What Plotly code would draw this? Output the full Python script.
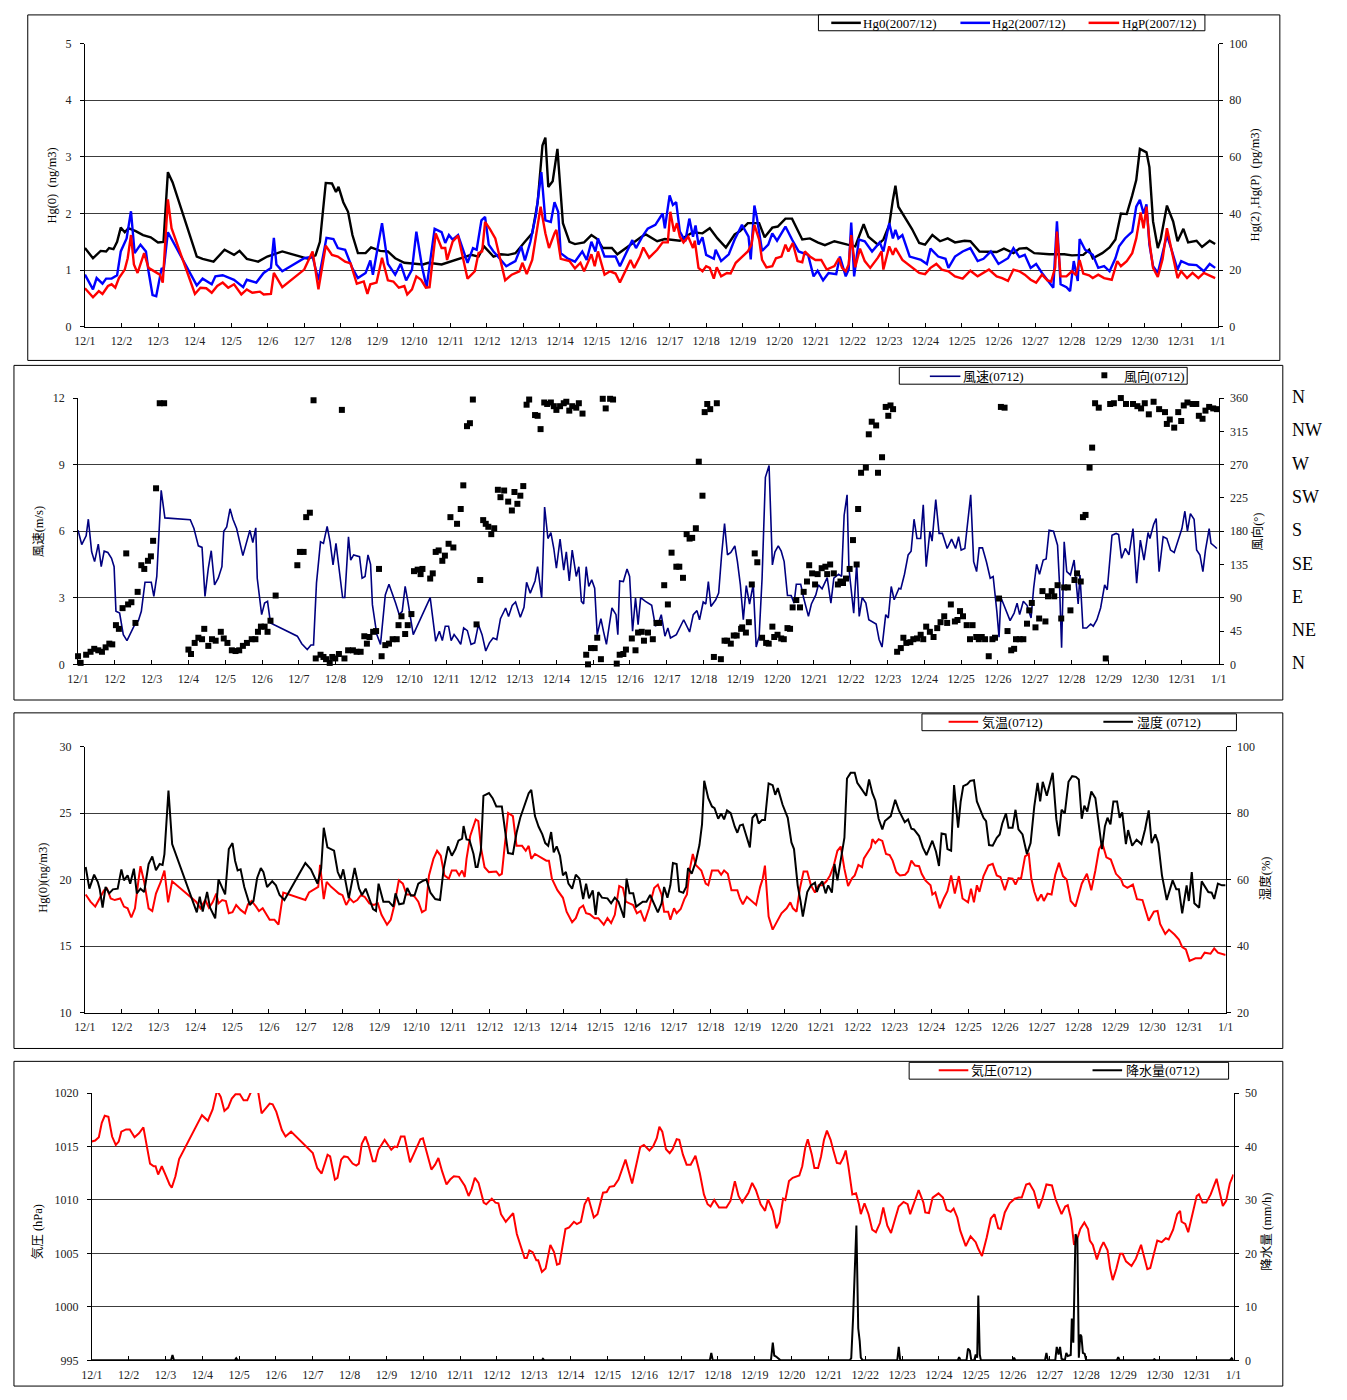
import plotly.graph_objects as go

# ---------------------------------------------------------------- data
# time axis: days elapsed since 2007-12-01 00:00
x_tick_labels = ["12/1", "12/2", "12/3", "12/4", "12/5", "12/6", "12/7", "12/8",
                 "12/9", "12/10", "12/11", "12/12", "12/13", "12/14", "12/15",
                 "12/16", "12/17", "12/18", "12/19", "12/20", "12/21", "12/22",
                 "12/23", "12/24", "12/25", "12/26", "12/27", "12/28", "12/29",
                 "12/30", "12/31", "1/1"]

# gaseous elemental mercury Hg(0), ng/m3
hg0 = [(0.00, 1.39), (0.22, 1.21), (0.43, 1.34), (0.58, 1.33), (0.66, 1.39), (0.78, 1.37),
       (0.88, 1.50), (0.98, 1.75), (1.09, 1.67), (1.19, 1.74), (1.39, 1.69), (1.59, 1.62),
       (1.80, 1.58), (2.00, 1.49), (2.15, 1.50), (2.27, 2.73), (2.40, 2.55), (3.06, 1.24),
       (3.22, 1.20), (3.52, 1.15), (3.82, 1.36), (4.08, 1.27), (4.23, 1.34), (4.43, 1.20),
       (4.74, 1.15), (4.99, 1.24), (5.40, 1.33), (6.11, 1.20), (6.31, 1.26), (6.43, 1.50),
       (6.59, 2.54), (6.76, 2.53), (6.87, 2.38), (6.94, 2.47), (7.07, 2.20), (7.20, 2.03),
       (7.32, 1.62), (7.47, 1.30), (7.68, 1.30), (7.83, 1.40), (8.08, 1.34), (8.29, 1.33),
       (8.49, 1.21), (8.74, 1.13), (9.25, 1.10), (9.40, 1.13), (9.76, 1.10), (9.96, 1.14),
       (10.26, 1.21), (10.57, 1.27), (10.77, 1.24), (10.92, 1.42), (11.18, 1.24), (11.38, 1.28),
       (11.58, 1.27), (11.78, 1.30), (12.04, 1.50), (12.24, 1.65), (12.39, 2.20), (12.52, 3.20),
       (12.60, 3.34), (12.68, 2.47), (12.80, 2.57), (12.93, 3.14), (13.08, 1.83), (13.26, 1.50),
       (13.41, 1.46), (13.66, 1.49), (13.86, 1.62), (14.02, 1.55), (14.17, 1.39), (14.42, 1.39),
       (14.57, 1.28), (14.93, 1.45), (15.23, 1.59), (15.35, 1.63), (15.66, 1.51), (15.87, 1.55),
       (16.02, 1.54), (16.28, 1.52), (16.43, 1.59), (16.64, 1.67), (16.90, 1.65), (17.10, 1.74),
       (17.31, 1.56), (17.54, 1.40), (17.78, 1.63), (17.93, 1.69), (18.14, 1.83), (18.45, 1.83),
       (18.60, 1.58), (18.81, 1.75), (18.96, 1.77), (19.17, 1.91), (19.35, 1.91), (19.48, 1.74),
       (19.63, 1.54), (19.84, 1.56), (20.05, 1.49), (20.25, 1.44), (20.51, 1.51), (20.87, 1.45),
       (21.08, 1.42), (21.18, 1.59), (21.31, 1.81), (21.44, 1.59), (21.70, 1.45), (21.85, 1.54),
       (22.01, 1.80), (22.11, 2.24), (22.18, 2.49), (22.26, 2.12), (22.47, 1.89), (22.63, 1.73),
       (22.83, 1.48), (22.99, 1.45), (23.19, 1.62), (23.40, 1.51), (23.61, 1.56), (23.81, 1.49),
       (24.07, 1.52), (24.23, 1.51), (24.48, 1.33), (24.95, 1.32), (25.15, 1.38), (25.41, 1.30),
       (25.57, 1.38), (25.77, 1.39), (25.98, 1.30), (26.39, 1.28), (26.80, 1.28), (27.01, 1.26),
       (27.32, 1.27), (27.48, 1.36), (27.58, 1.21), (27.84, 1.30), (28.04, 1.40), (28.20, 1.54),
       (28.35, 2.00), (28.51, 1.99), (28.66, 2.32), (28.77, 2.59), (28.87, 3.14), (29.05, 3.08),
       (29.13, 2.82), (29.23, 1.86), (29.36, 1.39), (29.44, 1.55), (29.61, 2.14), (29.78, 1.86),
       (29.90, 1.51), (30.06, 1.73), (30.19, 1.49), (30.42, 1.52), (30.57, 1.41), (30.78, 1.52),
       (30.93, 1.46)]

# reactive gaseous mercury Hg(2), pg/m3
hg2 = [(0.00, 18.4), (0.22, 13.2), (0.32, 17.2), (0.48, 15.2), (0.58, 17.0), (0.73, 17.0),
       (0.88, 18.2), (0.98, 26.6), (1.14, 31.2), (1.26, 40.8), (1.36, 26.0), (1.52, 29.0),
       (1.67, 26.6), (1.74, 19.6), (1.85, 11.2), (1.95, 10.8), (2.10, 20.8), (2.15, 19.6),
       (2.27, 33.4), (3.06, 14.6), (3.22, 17.0), (3.47, 15.0), (3.57, 17.8), (3.77, 18.2),
       (4.08, 16.6), (4.33, 14.0), (4.43, 16.6), (4.69, 15.6), (4.89, 19.0), (5.09, 20.8),
       (5.17, 31.4), (5.24, 22.0), (5.40, 19.6), (6.00, 24.2), (6.23, 24.8), (6.39, 16.4),
       (6.61, 31.4), (6.80, 31.0), (6.92, 27.8), (7.12, 27.2), (7.32, 20.6), (7.47, 17.2),
       (7.68, 19.0), (7.81, 23.4), (7.88, 18.4), (8.13, 36.6), (8.29, 22.2), (8.49, 18.4),
       (8.64, 22.2), (8.79, 16.4), (8.95, 20.2), (9.07, 33.6), (9.23, 20.8), (9.35, 14.0),
       (9.57, 34.6), (9.76, 33.4), (9.86, 29.6), (9.96, 32.4), (10.06, 30.8), (10.21, 32.4),
       (10.47, 22.6), (10.62, 27.8), (10.72, 27.2), (10.85, 37.6), (10.95, 38.8), (11.05, 29.0),
       (11.18, 26.6), (11.38, 23.6), (11.53, 21.4), (11.78, 23.2), (11.94, 28.4), (12.04, 23.4),
       (12.19, 30.0), (12.34, 39.4), (12.49, 54.6), (12.60, 37.6), (12.75, 37.0), (12.85, 44.0),
       (12.95, 40.6), (13.02, 26.0), (13.20, 24.2), (13.41, 23.0), (13.61, 26.6), (13.73, 23.6),
       (13.86, 30.0), (13.97, 26.6), (14.04, 31.2), (14.22, 24.8), (14.52, 24.8), (14.64, 21.4),
       (14.78, 25.4), (14.98, 30.6), (15.08, 27.8), (15.28, 32.4), (15.40, 34.6), (15.61, 36.0),
       (15.81, 40.0), (15.87, 34.8), (16.00, 46.4), (16.09, 43.0), (16.18, 44.0), (16.28, 33.6),
       (16.43, 30.2), (16.54, 38.2), (16.64, 31.8), (16.71, 35.8), (16.79, 29.0), (16.90, 31.6),
       (17.00, 25.4), (17.21, 24.0), (17.26, 27.2), (17.41, 23.2), (17.62, 25.6), (17.78, 30.8),
       (17.98, 36.0), (18.16, 31.8), (18.22, 23.8), (18.32, 42.8), (18.39, 38.4), (18.53, 26.8),
       (18.70, 29.0), (18.81, 33.0), (18.94, 30.4), (19.17, 35.4), (19.35, 30.8), (19.53, 26.6),
       (19.79, 25.4), (19.94, 17.8), (20.05, 19.8), (20.20, 16.4), (20.35, 19.0), (20.56, 18.6),
       (20.66, 24.8), (20.82, 17.8), (20.90, 20.2), (20.97, 36.8), (21.05, 17.8), (21.18, 30.8),
       (21.34, 30.2), (21.54, 26.6), (21.75, 29.8), (21.85, 26.6), (22.01, 36.6), (22.11, 31.2),
       (22.18, 34.2), (22.26, 31.2), (22.37, 32.4), (22.57, 24.8), (22.88, 23.6), (23.04, 22.2),
       (23.14, 27.6), (23.35, 24.8), (23.55, 24.0), (23.63, 20.8), (23.81, 24.8), (24.02, 26.6),
       (24.23, 27.8), (24.43, 23.2), (24.59, 24.0), (24.79, 26.6), (25.00, 22.2), (25.26, 24.2),
       (25.41, 27.8), (25.57, 24.6), (25.72, 25.4), (25.88, 20.8), (26.03, 22.2), (26.19, 19.0),
       (26.39, 15.6), (26.50, 13.8), (26.60, 37.2), (26.70, 15.0), (26.86, 14.0), (26.96, 12.6),
       (27.06, 23.2), (27.17, 16.2), (27.22, 31.0), (27.37, 27.2), (27.58, 25.4), (27.73, 20.8),
       (27.89, 21.4), (28.04, 19.6), (28.20, 24.2), (28.30, 28.4), (28.46, 31.2), (28.66, 33.6),
       (28.77, 42.4), (28.87, 44.8), (28.97, 40.0), (29.05, 43.2), (29.13, 29.0), (29.23, 21.4),
       (29.36, 19.0), (29.49, 26.6), (29.61, 32.4), (29.75, 26.6), (29.90, 20.2), (30.00, 23.2),
       (30.21, 22.0), (30.42, 21.8), (30.62, 19.6), (30.78, 22.2), (30.93, 20.8)]

# particulate mercury Hg(P), pg/m3
hgp = [(0.00, 13.6), (0.22, 10.4), (0.38, 12.6), (0.48, 11.6), (0.63, 14.4), (0.73, 15.0),
       (0.83, 13.8), (0.93, 17.2), (1.09, 20.2), (1.17, 24.2), (1.26, 32.4), (1.34, 22.0),
       (1.44, 19.0), (1.62, 26.0), (1.74, 20.8), (1.90, 19.6), (2.05, 18.4), (2.13, 15.6),
       (2.27, 45.0), (2.37, 34.8), (3.01, 11.6), (3.16, 13.8), (3.32, 13.6), (3.47, 12.0),
       (3.62, 14.4), (3.77, 15.6), (3.92, 13.8), (4.08, 15.0), (4.28, 11.4), (4.43, 13.2),
       (4.58, 12.0), (4.79, 12.4), (4.89, 11.4), (5.09, 11.6), (5.17, 19.0), (5.40, 14.0),
       (6.00, 20.2), (6.23, 26.6), (6.39, 13.2), (6.59, 28.6), (6.76, 25.4), (6.92, 24.8),
       (7.12, 23.0), (7.27, 22.4), (7.44, 15.2), (7.63, 16.0), (7.73, 11.6), (7.81, 15.0),
       (7.98, 15.6), (8.13, 24.4), (8.29, 16.4), (8.44, 16.0), (8.59, 13.8), (8.74, 14.4),
       (8.82, 11.4), (8.95, 13.2), (9.07, 17.8), (9.20, 16.6), (9.33, 13.8), (9.43, 14.0),
       (9.60, 33.0), (9.76, 27.8), (9.86, 27.8), (9.91, 23.6), (10.06, 30.0), (10.21, 32.2),
       (10.47, 17.0), (10.67, 19.6), (10.77, 26.0), (10.87, 26.6), (10.95, 37.0), (11.08, 34.6),
       (11.23, 31.2), (11.38, 23.0), (11.50, 16.4), (11.68, 18.4), (11.89, 19.6), (11.97, 22.6),
       (12.09, 18.6), (12.24, 23.6), (12.34, 31.2), (12.47, 42.4), (12.60, 33.0), (12.70, 27.8),
       (12.85, 33.0), (12.90, 34.2), (13.02, 24.0), (13.26, 23.2), (13.41, 20.6), (13.56, 22.6),
       (13.66, 19.6), (13.86, 25.6), (13.95, 21.4), (14.04, 26.6), (14.22, 18.4), (14.37, 19.6),
       (14.52, 18.8), (14.64, 15.6), (14.83, 20.8), (14.93, 23.6), (15.03, 20.8), (15.19, 24.8),
       (15.28, 28.0), (15.44, 24.4), (15.66, 27.2), (15.81, 29.8), (15.95, 29.8), (16.02, 40.6),
       (16.12, 33.6), (16.20, 36.6), (16.28, 31.8), (16.38, 29.8), (16.51, 31.8), (16.64, 27.8),
       (16.69, 30.4), (16.79, 20.8), (16.90, 19.6), (17.00, 21.4), (17.10, 20.8), (17.21, 17.0),
       (17.29, 21.0), (17.41, 17.8), (17.57, 19.0), (17.67, 18.8), (17.81, 22.6), (17.98, 24.8),
       (18.14, 26.6), (18.24, 29.0), (18.32, 36.0), (18.45, 30.8), (18.53, 23.6), (18.65, 21.0),
       (18.81, 21.4), (18.91, 24.2), (19.06, 24.8), (19.17, 29.0), (19.25, 26.6), (19.37, 29.6),
       (19.50, 23.2), (19.63, 22.8), (19.70, 26.6), (19.84, 24.8), (19.99, 23.6), (20.15, 23.6),
       (20.30, 20.2), (20.51, 21.4), (20.63, 24.2), (20.72, 20.8), (20.82, 19.6), (20.90, 22.0),
       (20.97, 32.4), (21.08, 21.0), (21.21, 27.6), (21.34, 23.2), (21.49, 20.8), (21.70, 24.4),
       (21.80, 26.6), (21.85, 20.2), (22.01, 28.4), (22.11, 25.4), (22.18, 27.8), (22.37, 23.6),
       (22.53, 22.0), (22.68, 20.8), (22.83, 19.0), (22.99, 18.6), (23.14, 20.8), (23.30, 22.2),
       (23.45, 20.2), (23.63, 19.6), (23.81, 17.8), (24.02, 17.0), (24.23, 19.8), (24.43, 17.8),
       (24.59, 19.0), (24.74, 20.2), (24.95, 17.8), (25.10, 17.2), (25.26, 16.2), (25.41, 20.2),
       (25.57, 19.6), (25.72, 18.4), (25.88, 16.6), (26.03, 15.6), (26.19, 18.4), (26.34, 16.4),
       (26.44, 16.0), (26.55, 20.8), (26.60, 33.6), (26.70, 17.8), (26.86, 17.8), (27.01, 19.6),
       (27.12, 18.2), (27.22, 23.6), (27.32, 18.8), (27.48, 18.2), (27.58, 17.2), (27.73, 18.4),
       (27.89, 17.2), (28.10, 16.6), (28.25, 23.2), (28.35, 21.4), (28.51, 23.2), (28.66, 26.0),
       (28.77, 31.2), (28.89, 40.4), (28.97, 34.8), (29.05, 42.4), (29.13, 30.2), (29.23, 20.8),
       (29.36, 17.6), (29.49, 23.8), (29.61, 34.8), (29.75, 26.6), (29.90, 17.2), (30.00, 19.6),
       (30.16, 17.2), (30.31, 19.0), (30.47, 17.2), (30.62, 19.0), (30.78, 18.2), (30.93, 17.2)]

# wind speed, m/s
wind_speed = [(0.00, 6.04), (0.10, 5.40), (0.22, 5.79), (0.28, 6.54), (0.37, 5.07), (0.45, 4.63),
              (0.55, 5.42), (0.63, 4.40), (0.71, 5.10), (0.81, 5.04), (0.91, 4.78), (0.98, 4.40),
              (1.03, 2.39), (1.13, 2.31), (1.23, 1.34), (1.33, 1.07), (1.54, 1.79), (1.64, 1.97),
              (1.72, 2.39), (1.82, 3.70), (1.99, 3.70), (2.06, 3.06), (2.14, 3.96), (2.26, 7.84),
              (2.36, 6.60), (3.05, 6.52), (3.15, 6.12), (3.27, 5.34), (3.37, 5.27), (3.45, 3.06),
              (3.54, 4.33), (3.62, 5.12), (3.71, 3.58), (3.81, 3.88), (3.91, 4.40), (3.96, 6.00),
              (4.04, 6.19), (4.13, 7.01), (4.21, 6.54), (4.31, 6.12), (4.48, 4.90), (4.59, 5.55),
              (4.67, 6.04), (4.75, 5.49), (4.83, 6.15), (4.87, 3.88), (4.99, 2.24), (5.07, 2.76),
              (5.15, 2.84), (5.23, 1.87), (5.96, 1.27), (6.08, 0.93), (6.23, 0.67), (6.33, 0.87),
              (6.40, 0.87), (6.48, 3.66), (6.59, 5.52), (6.67, 5.45), (6.77, 6.22), (6.85, 5.52),
              (6.93, 4.48), (7.01, 5.45), (7.09, 4.40), (7.19, 3.01), (7.25, 3.01), (7.35, 5.75),
              (7.41, 4.70), (7.49, 4.93), (7.65, 4.85), (7.72, 3.88), (7.80, 3.96), (7.88, 4.93),
              (7.95, 4.51), (8.00, 2.69), (8.12, 1.34), (8.22, 0.90), (8.35, 3.13), (8.45, 3.61),
              (8.63, 2.76), (8.73, 2.24), (8.81, 2.39), (8.89, 3.51), (8.96, 2.87), (9.01, 2.39),
              (9.11, 1.34), (9.57, 3.01), (9.72, 1.04), (9.82, 1.49), (9.90, 1.07), (9.98, 1.72),
              (10.07, 1.72), (10.14, 1.07), (10.22, 1.34), (10.32, 1.12), (10.40, 0.90), (10.48, 1.64),
              (10.58, 1.52), (10.68, 0.90), (10.78, 0.97), (10.88, 1.79), (10.98, 1.34), (11.08, 0.60),
              (11.18, 0.97), (11.28, 1.19), (11.38, 1.12), (11.48, 2.06), (11.62, 2.54), (11.70, 2.16),
              (11.80, 2.66), (11.89, 2.81), (12.02, 2.12), (12.12, 2.57), (12.19, 3.70), (12.29, 3.21),
              (12.42, 3.76), (12.49, 4.40), (12.60, 2.99), (12.68, 7.09), (12.77, 5.67), (12.85, 5.94),
              (12.93, 5.22), (13.00, 4.33), (13.10, 5.64), (13.20, 4.25), (13.27, 5.07), (13.35, 3.76),
              (13.43, 5.15), (13.54, 3.96), (13.61, 4.40), (13.68, 2.84), (13.74, 2.72), (13.81, 4.40),
              (13.88, 3.51), (13.96, 3.81), (14.04, 3.43), (14.11, 1.34), (14.21, 2.06), (14.28, 1.49),
              (14.36, 0.90), (14.44, 1.79), (14.51, 2.54), (14.62, 2.24), (14.67, 1.34), (14.72, 3.76),
              (14.82, 3.73), (14.92, 4.30), (14.99, 3.96), (15.07, 1.49), (15.15, 2.99), (15.22, 1.79),
              (15.29, 3.01), (15.42, 2.84), (15.59, 2.66), (15.69, 1.72), (15.79, 1.94), (15.85, 2.24),
              (15.95, 1.27), (16.03, 1.64), (16.10, 1.19), (16.26, 1.34), (16.46, 2.01), (16.62, 1.46),
              (16.72, 2.24), (16.82, 2.42), (16.89, 2.01), (16.99, 2.81), (17.06, 2.72), (17.13, 3.73),
              (17.20, 2.61), (17.33, 2.91), (17.41, 3.21), (17.49, 4.93), (17.57, 6.34), (17.65, 4.93),
              (17.74, 5.04), (17.85, 5.34), (17.92, 4.63), (18.00, 3.58), (18.08, 2.01), (18.16, 3.55),
              (18.25, 2.72), (18.35, 3.61), (18.43, 0.78), (18.51, 1.27), (18.59, 3.88), (18.68, 8.43),
              (18.78, 8.96), (18.87, 4.48), (18.94, 5.07), (19.03, 5.34), (19.11, 5.10), (19.19, 4.63),
              (19.28, 3.10), (19.38, 3.10), (19.46, 2.76), (19.52, 3.61), (19.64, 3.61), (19.72, 2.99),
              (19.85, 2.16), (19.93, 2.72), (20.05, 3.13), (20.12, 3.58), (20.22, 3.40), (20.36, 3.91),
              (20.46, 2.76), (20.54, 3.88), (20.67, 4.06), (20.75, 3.96), (20.82, 6.72), (20.90, 7.64),
              (20.95, 4.33), (21.08, 2.31), (21.16, 4.55), (21.23, 2.16), (21.31, 3.01), (21.41, 2.76),
              (21.49, 2.01), (21.69, 1.82), (21.77, 1.12), (21.85, 0.78), (21.95, 2.24), (22.02, 2.09),
              (22.10, 3.51), (22.18, 2.91), (22.31, 3.43), (22.36, 3.40), (22.46, 4.06), (22.56, 4.93),
              (22.64, 5.10), (22.72, 6.54), (22.80, 5.67), (22.90, 5.67), (22.97, 7.19), (23.05, 4.40),
              (23.15, 6.00), (23.21, 5.55), (23.31, 7.43), (23.40, 5.90), (23.49, 5.90), (23.62, 5.22),
              (23.74, 5.64), (23.85, 5.22), (23.93, 5.75), (24.00, 5.15), (24.10, 5.22), (24.26, 7.64),
              (24.34, 4.63), (24.42, 4.18), (24.49, 5.25), (24.58, 5.25), (24.69, 4.60), (24.79, 3.88),
              (24.87, 3.96), (24.97, 2.39), (25.03, 1.22), (25.08, 3.01), (25.20, 2.54), (25.33, 1.97),
              (25.44, 2.31), (25.52, 2.76), (25.59, 2.24), (25.69, 2.84), (25.79, 2.66), (25.90, 2.09),
              (25.97, 3.43), (26.05, 4.51), (26.13, 4.06), (26.23, 4.70), (26.31, 4.75), (26.39, 6.04),
              (26.51, 6.00), (26.62, 5.37), (26.67, 3.73), (26.73, 0.75), (26.80, 5.52), (26.87, 4.18),
              (26.97, 4.03), (27.07, 4.70), (27.18, 2.72), (27.23, 4.03), (27.31, 1.64), (27.41, 1.64),
              (27.52, 1.82), (27.59, 1.72), (27.69, 2.01), (27.79, 2.54), (27.90, 3.58), (27.97, 3.36),
              (28.10, 5.82), (28.21, 5.90), (28.28, 5.85), (28.36, 4.78), (28.46, 5.22), (28.56, 4.93),
              (28.67, 6.12), (28.77, 3.66), (28.87, 5.60), (28.97, 4.70), (29.08, 5.94), (29.13, 5.67),
              (29.23, 6.30), (29.30, 6.57), (29.38, 4.18), (29.49, 5.75), (29.59, 5.67), (29.69, 5.15),
              (29.79, 5.04), (29.92, 5.75), (30.00, 6.12), (30.08, 6.90), (30.15, 6.00), (30.23, 6.79),
              (30.33, 6.54), (30.40, 5.15), (30.49, 4.93), (30.57, 4.18), (30.64, 5.15), (30.74, 6.12),
              (30.79, 5.45), (30.90, 5.30), (30.95, 5.22)]

# wind direction, degrees (0 = 360 = N)
wind_dir = [(0.00, 11), (0.07, 2), (0.22, 13), (0.34, 17), (0.44, 21), (0.55, 19), (0.65, 17),
            (0.75, 23), (0.85, 28), (0.93, 27), (1.03, 53), (1.11, 48), (1.21, 76), (1.31, 150),
            (1.36, 81), (1.45, 84), (1.56, 56), (1.62, 98), (1.72, 134), (1.80, 129), (1.90, 140),
            (1.98, 146), (2.04, 167), (2.12, 238), (2.22, 353), (2.34, 353), (3.00, 20), (3.07, 14),
            (3.17, 29), (3.27, 36), (3.37, 34), (3.43, 48), (3.54, 25), (3.64, 34), (3.74, 32),
            (3.88, 44), (3.96, 35), (4.06, 29), (4.18, 19), (4.28, 18), (4.38, 19), (4.48, 25),
            (4.59, 29), (4.72, 34), (4.82, 34), (4.89, 44), (4.97, 51), (5.07, 51), (5.15, 44),
            (5.23, 59), (5.37, 93), (5.96, 134), (6.03, 152), (6.13, 152), (6.20, 199), (6.30, 205),
            (6.40, 357), (6.46, 8), (6.59, 13), (6.67, 10), (6.74, 7), (6.84, 2), (6.91, 10),
            (6.99, 8), (7.09, 14), (7.17, 344), (7.24, 8), (7.34, 19), (7.47, 19), (7.57, 17),
            (7.68, 17), (7.78, 38), (7.85, 28), (7.92, 37), (8.02, 44), (8.10, 45), (8.18, 129),
            (8.25, 11), (8.35, 26), (8.45, 28), (8.55, 34), (8.66, 34), (8.71, 53), (8.79, 65),
            (8.89, 41), (8.96, 53), (9.06, 68), (9.13, 126), (9.23, 128), (9.31, 122), (9.36, 129),
            (9.57, 116), (9.64, 123), (9.72, 152), (9.80, 154), (9.90, 140), (9.97, 147), (10.07, 163),
            (10.12, 199), (10.20, 158), (10.30, 190), (10.40, 210), (10.47, 242), (10.57, 322),
            (10.65, 326), (10.73, 358), (10.83, 54), (10.93, 114), (11.01, 195), (11.08, 190),
            (11.15, 186), (11.23, 176), (11.31, 184), (11.41, 236), (11.48, 226), (11.58, 235),
            (11.69, 220), (11.79, 208), (11.86, 233), (11.94, 217), (12.02, 228), (12.10, 241),
            (12.19, 351), (12.26, 358), (12.42, 337), (12.49, 336), (12.57, 318), (12.67, 354),
            (12.75, 352), (12.85, 354), (12.93, 349), (13.00, 344), (13.10, 349), (13.20, 353),
            (13.27, 355), (13.35, 343), (13.43, 349), (13.54, 347), (13.61, 353), (13.71, 339),
            (13.81, 13), (13.86, 0), (13.94, 22), (14.04, 22), (14.11, 36), (14.21, 7), (14.26, 359),
            (14.34, 346), (14.46, 359), (14.54, 358), (14.64, 1), (14.72, 13), (14.82, 14),
            (14.89, 20), (15.05, 35), (15.15, 19), (15.22, 43), (15.32, 44), (15.38, 32), (15.49, 43),
            (15.62, 34), (15.72, 56), (15.79, 56), (15.93, 107), (16.03, 81), (16.13, 151),
            (16.26, 132), (16.34, 132), (16.44, 117), (16.54, 176), (16.62, 170), (16.69, 171),
            (16.79, 184), (16.87, 274), (16.97, 228), (17.03, 341), (17.10, 352), (17.18, 345),
            (17.36, 353), (17.28, 10), (17.47, 7), (17.57, 32), (17.64, 32), (17.74, 28), (17.82, 39),
            (17.90, 39), (18.02, 48), (18.05, 50), (18.15, 43), (18.23, 57), (18.31, 108),
            (18.39, 150), (18.46, 138), (18.59, 36), (18.70, 29), (18.77, 28), (18.87, 51), (18.92, 37),
            (19.01, 40), (19.11, 35), (19.18, 34), (19.28, 49), (19.35, 48), (19.42, 77), (19.52, 87),
            (19.62, 77), (19.72, 98), (19.81, 112), (19.87, 134), (19.95, 123), (20.03, 108),
            (20.10, 122), (20.21, 130), (20.31, 132), (20.36, 122), (20.44, 135), (20.54, 123),
            (20.65, 108), (20.72, 112), (20.79, 110), (20.87, 116), (20.97, 129), (21.06, 168),
            (21.16, 135), (21.20, 210), (21.28, 259), (21.41, 266), (21.49, 311), (21.57, 328),
            (21.69, 323), (21.74, 259), (21.85, 280), (21.95, 348), (22.02, 336), (22.08, 350),
            (22.15, 345), (22.26, 17), (22.36, 22), (22.43, 36), (22.51, 29), (22.62, 30), (22.70, 34),
            (22.80, 35), (22.90, 40), (22.97, 34), (23.05, 51), (23.15, 44), (23.25, 37), (23.35, 49),
            (23.44, 57), (23.54, 65), (23.62, 56), (23.72, 81), (23.83, 58), (23.90, 60), (23.97, 72),
            (24.05, 65), (24.15, 53), (24.24, 34), (24.31, 53), (24.41, 37), (24.48, 34), (24.56, 37),
            (24.65, 34), (24.75, 11), (24.85, 34), (24.92, 36), (25.03, 89), (25.08, 348),
            (25.18, 347), (25.26, 45), (25.36, 19), (25.44, 21), (25.49, 34), (25.59, 34), (25.69, 34),
            (25.79, 55), (25.85, 73), (25.92, 83), (26.02, 50), (26.12, 62), (26.21, 99), (26.29, 58),
            (26.36, 92), (26.46, 99), (26.53, 92), (26.62, 107), (26.72, 62), (26.80, 104),
            (26.90, 104), (26.97, 73), (27.08, 114), (27.15, 123), (27.25, 112), (27.31, 199),
            (27.38, 202), (27.49, 266), (27.56, 293), (27.64, 353), (27.74, 347), (27.93, 8),
            (28.05, 352), (28.15, 353), (28.34, 360), (28.48, 352), (28.67, 352), (28.79, 349),
            (28.89, 346), (28.99, 353), (29.10, 338), (29.23, 355), (29.38, 345), (29.54, 341),
            (29.59, 325), (29.67, 331), (29.79, 320), (29.90, 341), (29.98, 329), (30.05, 350),
            (30.15, 354), (30.29, 352), (30.39, 352), (30.46, 336), (30.56, 332), (30.64, 343),
            (30.74, 348), (30.85, 346), (30.95, 345)]

# air temperature, degC
air_temp = [(0.02, 18.89), (0.15, 18.35), (0.28, 17.98), (0.40, 18.59), (0.52, 19.21), (0.60, 19.33),
            (0.70, 18.59), (0.81, 18.47), (0.96, 18.59), (1.06, 17.98), (1.16, 17.85), (1.26, 17.16),
            (1.36, 17.85), (1.46, 20.07), (1.51, 21.01), (1.61, 19.83), (1.73, 17.85), (1.83, 17.65),
            (1.93, 18.96), (2.06, 19.83), (2.16, 20.69), (2.26, 18.30), (2.37, 19.88), (3.02, 18.35),
            (3.14, 17.85), (3.27, 18.47), (3.37, 17.90), (3.47, 18.30), (3.57, 18.96), (3.63, 18.22),
            (3.73, 18.47), (3.83, 18.40), (3.91, 17.48), (4.01, 17.56), (4.11, 18.10), (4.23, 17.73),
            (4.35, 17.48), (4.43, 18.15), (4.53, 18.40), (4.65, 17.98), (4.73, 17.65), (4.83, 17.85),
            (4.93, 17.41), (5.02, 16.99), (5.15, 16.99), (5.26, 16.62), (5.39, 19.04), (5.99, 18.47),
            (6.09, 19.04), (6.24, 19.33), (6.34, 19.46), (6.39, 21.11), (6.49, 18.54), (6.57, 19.83),
            (6.69, 19.46), (6.80, 19.21), (6.90, 18.96), (7.00, 18.84), (7.10, 18.10), (7.20, 18.59),
            (7.30, 18.30), (7.40, 18.47), (7.50, 18.84), (7.60, 18.72), (7.73, 18.22), (7.85, 18.10),
            (7.96, 18.22), (8.06, 17.36), (8.21, 16.62), (8.31, 16.99), (8.41, 18.10), (8.53, 19.95),
            (8.64, 19.70), (8.74, 18.89), (8.84, 18.89), (8.96, 18.72), (9.06, 18.35), (9.16, 17.56),
            (9.26, 17.73), (9.35, 20.32), (9.47, 21.56), (9.57, 22.17), (9.67, 21.80), (9.77, 20.32),
            (9.89, 20.07), (9.97, 20.69), (10.09, 20.69), (10.17, 20.32), (10.25, 20.69), (10.32, 20.20),
            (10.37, 21.56), (10.47, 23.28), (10.62, 24.52), (10.69, 24.40), (10.77, 22.30), (10.86, 20.94),
            (10.98, 20.57), (11.18, 20.62), (11.26, 20.32), (11.33, 20.44), (11.40, 22.42), (11.50, 25.01),
            (11.63, 24.77), (11.73, 22.54), (11.88, 22.54), (11.98, 22.17), (12.06, 22.54), (12.13, 21.56),
            (12.23, 21.93), (12.39, 21.68), (12.54, 21.43), (12.61, 21.43), (12.69, 20.07), (12.84, 19.21),
            (12.99, 18.64), (13.09, 17.60), (13.24, 16.81), (13.34, 17.11), (13.44, 17.85), (13.54, 18.05),
            (13.62, 17.48), (13.72, 17.41), (13.85, 17.11), (13.95, 17.11), (14.10, 16.62), (14.20, 17.11),
            (14.30, 16.74), (14.40, 17.36), (14.52, 19.53), (14.62, 19.38), (14.70, 18.35), (14.80, 18.22),
            (14.90, 18.10), (15.00, 17.48), (15.10, 17.65), (15.21, 16.86), (15.33, 17.85), (15.47, 19.38),
            (15.57, 19.63), (15.67, 18.89), (15.74, 17.60), (15.85, 17.60), (15.91, 16.99), (16.01, 17.85),
            (16.08, 17.48), (16.19, 17.80), (16.29, 18.54), (16.36, 18.89), (16.44, 20.81), (16.52, 21.93),
            (16.60, 21.11), (16.75, 20.69), (16.87, 19.70), (16.94, 19.58), (17.04, 20.69), (17.21, 20.69),
            (17.29, 20.37), (17.37, 20.69), (17.47, 20.44), (17.57, 19.21), (17.73, 19.21), (17.80, 18.59),
            (17.88, 18.15), (17.99, 18.72), (18.11, 18.40), (18.24, 18.10), (18.35, 19.46), (18.42, 20.07),
            (18.48, 21.06), (18.58, 17.23), (18.69, 16.25), (18.79, 16.81), (18.93, 17.48), (19.07, 17.85),
            (19.17, 18.30), (19.24, 17.85), (19.34, 17.60), (19.43, 19.33), (19.53, 20.62), (19.63, 20.62),
            (19.73, 19.58), (19.84, 19.04), (19.94, 19.58), (20.04, 19.58), (20.15, 19.88), (20.25, 20.32),
            (20.35, 21.06), (20.45, 22.17), (20.54, 22.49), (20.64, 20.81), (20.74, 19.53), (20.85, 20.12),
            (20.92, 20.32), (21.02, 21.11), (21.12, 20.94), (21.17, 21.60), (21.28, 22.05), (21.36, 22.42),
            (21.40, 23.04), (21.48, 22.74), (21.57, 23.04), (21.67, 22.91), (21.77, 21.93), (21.87, 21.85),
            (21.95, 21.43), (22.05, 20.57), (22.15, 20.32), (22.29, 20.37), (22.37, 20.62), (22.46, 21.43),
            (22.56, 21.06), (22.67, 21.01), (22.74, 20.44), (22.84, 19.95), (22.98, 19.58), (23.03, 18.89),
            (23.11, 19.04), (23.23, 17.85), (23.34, 18.59), (23.44, 19.14), (23.54, 20.32), (23.64, 18.96),
            (23.75, 20.27), (23.85, 18.59), (24.00, 18.30), (24.08, 19.33), (24.16, 18.30), (24.24, 19.58),
            (24.31, 19.09), (24.42, 20.27), (24.55, 21.06), (24.67, 21.19), (24.78, 20.32), (24.88, 20.20),
            (25.00, 19.21), (25.10, 20.12), (25.21, 20.07), (25.29, 19.63), (25.37, 20.12), (25.44, 20.07),
            (25.55, 21.75), (25.65, 21.93), (25.72, 20.07), (25.80, 19.09), (25.89, 18.40), (25.99, 18.89),
            (26.06, 18.40), (26.16, 18.96), (26.27, 18.89), (26.37, 20.37), (26.47, 21.26), (26.58, 20.27),
            (26.68, 20.02), (26.79, 18.40), (26.92, 17.98), (27.09, 19.70), (27.23, 20.44), (27.35, 19.21),
            (27.46, 20.69), (27.56, 22.30), (27.65, 22.74), (27.76, 21.68), (27.88, 21.51), (28.02, 20.44),
            (28.15, 20.07), (28.22, 19.58), (28.33, 19.38), (28.48, 19.63), (28.59, 18.54), (28.74, 18.47),
            (28.91, 16.91), (29.05, 17.60), (29.15, 17.65), (29.22, 16.67), (29.36, 15.93), (29.46, 16.25),
            (29.61, 15.88), (29.73, 15.51), (29.82, 14.94), (29.92, 14.77), (30.02, 13.90), (30.18, 14.10),
            (30.33, 14.10), (30.43, 14.52), (30.59, 14.44), (30.69, 14.84), (30.79, 14.52), (31.00, 14.35)]

# relative humidity, %
humidity = [(0.02, 63.8), (0.12, 57.3), (0.25, 61.5), (0.35, 59.3), (0.40, 57.3), (0.48, 51.6),
            (0.56, 57.8), (0.66, 55.9), (0.76, 57.1), (0.89, 57.3), (0.99, 63.1), (1.06, 59.8),
            (1.16, 61.3), (1.23, 58.8), (1.33, 63.3), (1.41, 55.9), (1.51, 57.3), (1.61, 56.3),
            (1.73, 64.7), (1.83, 67.0), (1.93, 62.8), (2.03, 64.7), (2.11, 64.4), (2.16, 67.7),
            (2.27, 86.8), (2.37, 70.7), (3.04, 50.2), (3.12, 54.9), (3.20, 50.4), (3.32, 56.3),
            (3.40, 51.6), (3.54, 48.4), (3.63, 60.1), (3.73, 57.8), (3.81, 55.6), (3.91, 69.2),
            (4.01, 71.0), (4.08, 65.7), (4.15, 62.8), (4.23, 63.1), (4.33, 57.8), (4.48, 52.4),
            (4.58, 53.6), (4.68, 60.5), (4.78, 63.5), (4.85, 62.3), (4.95, 57.8), (5.09, 59.5),
            (5.19, 58.3), (5.29, 55.4), (5.42, 53.9), (5.99, 65.0), (6.14, 63.1), (6.32, 58.8),
            (6.42, 63.3), (6.49, 75.6), (6.59, 69.7), (6.77, 68.7), (6.87, 62.3), (6.95, 60.3),
            (7.02, 63.1), (7.17, 54.4), (7.33, 63.5), (7.45, 57.3), (7.53, 55.4), (7.63, 57.3),
            (7.75, 53.4), (7.83, 51.2), (7.91, 50.6), (7.98, 58.8), (8.11, 53.4), (8.26, 53.4),
            (8.38, 51.9), (8.44, 55.9), (8.54, 52.6), (8.66, 52.9), (8.76, 57.5), (8.86, 55.2),
            (8.96, 55.4), (9.06, 58.8), (9.16, 59.5), (9.28, 60.1), (9.39, 56.1), (9.52, 54.2),
            (9.65, 53.9), (9.75, 63.3), (9.87, 70.0), (9.97, 67.2), (10.07, 69.2), (10.15, 71.7),
            (10.25, 72.3), (10.29, 76.1), (10.37, 72.1), (10.45, 71.9), (10.56, 67.7), (10.62, 63.8),
            (10.67, 63.8), (10.76, 68.7), (10.83, 85.2), (10.98, 86.0), (11.08, 84.5), (11.18, 82.0),
            (11.33, 82.0), (11.43, 74.1), (11.50, 68.0), (11.63, 67.7), (11.73, 74.1), (11.83, 78.6),
            (11.96, 83.2), (12.06, 86.0), (12.13, 87.0), (12.23, 79.1), (12.33, 75.9), (12.43, 73.6),
            (12.51, 71.0), (12.59, 70.2), (12.67, 74.3), (12.74, 68.2), (12.82, 70.0), (12.91, 67.2),
            (12.99, 61.3), (13.07, 62.3), (13.14, 58.8), (13.24, 57.3), (13.34, 61.5), (13.44, 60.3),
            (13.54, 54.2), (13.62, 58.8), (13.70, 54.4), (13.80, 56.8), (13.88, 49.4), (13.95, 56.3),
            (14.05, 54.6), (14.20, 54.4), (14.30, 52.9), (14.40, 54.6), (14.50, 53.4), (14.65, 48.6),
            (14.72, 60.3), (14.80, 55.9), (14.90, 55.9), (14.98, 51.9), (15.16, 53.4), (15.26, 53.4),
            (15.36, 55.4), (15.47, 52.9), (15.57, 50.2), (15.67, 52.9), (15.74, 57.8), (15.83, 54.6),
            (15.91, 58.3), (15.98, 65.0), (16.08, 64.7), (16.15, 56.5), (16.26, 56.1), (16.34, 57.8),
            (16.39, 63.5), (16.49, 61.8), (16.60, 65.4), (16.70, 70.4), (16.77, 76.6), (16.83, 89.7),
            (16.94, 84.5), (17.04, 82.0), (17.11, 81.5), (17.21, 78.3), (17.29, 79.9), (17.37, 78.1),
            (17.45, 80.8), (17.55, 80.0), (17.66, 75.9), (17.73, 74.1), (17.80, 76.3), (17.88, 76.6),
            (17.96, 73.9), (18.07, 69.7), (18.14, 78.6), (18.24, 79.9), (18.31, 76.9), (18.40, 77.9),
            (18.48, 77.9), (18.58, 88.9), (18.69, 88.4), (18.76, 85.5), (18.83, 87.5), (18.96, 82.5),
            (19.10, 78.6), (19.20, 71.2), (19.27, 69.2), (19.37, 58.3), (19.45, 53.4), (19.51, 48.9),
            (19.63, 56.3), (19.73, 58.3), (19.84, 59.1), (19.89, 56.3), (19.96, 58.3), (20.04, 59.5),
            (20.13, 55.9), (20.20, 58.3), (20.30, 56.1), (20.37, 64.7), (20.45, 59.8), (20.56, 66.7),
            (20.64, 72.6), (20.71, 90.4), (20.81, 92.1), (20.92, 92.1), (20.99, 89.1), (21.09, 87.5),
            (21.23, 85.2), (21.31, 90.1), (21.40, 86.0), (21.48, 83.8), (21.57, 78.3), (21.67, 75.1),
            (21.74, 77.6), (21.90, 79.1), (22.02, 84.0), (22.12, 80.8), (22.20, 79.1), (22.28, 77.3),
            (22.37, 78.1), (22.46, 75.3), (22.53, 75.1), (22.67, 73.1), (22.77, 69.7), (22.87, 67.4),
            (23.03, 71.7), (23.13, 68.4), (23.21, 64.1), (23.28, 73.9), (23.39, 73.6), (23.44, 69.2),
            (23.54, 68.7), (23.62, 88.4), (23.73, 75.6), (23.80, 83.5), (23.87, 88.1), (23.98, 88.7),
            (24.06, 89.7), (24.16, 89.9), (24.24, 83.5), (24.34, 81.0), (24.42, 78.6), (24.49, 77.6),
            (24.57, 70.4), (24.67, 70.2), (24.78, 72.6), (24.86, 73.6), (24.93, 76.9), (25.03, 79.9),
            (25.10, 75.6), (25.21, 75.6), (25.29, 81.0), (25.37, 75.1), (25.48, 73.6), (25.60, 67.7),
            (25.70, 71.0), (25.80, 82.0), (25.89, 89.1), (25.96, 83.5), (26.03, 89.4), (26.14, 85.2),
            (26.22, 88.9), (26.30, 92.1), (26.40, 78.1), (26.47, 73.1), (26.54, 81.0), (26.63, 79.9),
            (26.73, 89.4), (26.83, 91.1), (26.93, 90.9), (27.01, 90.1), (27.09, 78.3), (27.16, 82.2),
            (27.24, 80.5), (27.35, 86.5), (27.46, 84.5), (27.56, 75.9), (27.64, 69.2), (27.72, 76.1),
            (27.79, 78.6), (27.87, 76.6), (27.95, 83.5), (28.05, 83.5), (28.12, 78.6), (28.19, 80.2),
            (28.29, 70.7), (28.35, 74.9), (28.46, 70.2), (28.58, 72.0), (28.71, 70.7), (28.81, 75.1),
            (28.91, 80.8), (28.99, 71.0), (29.09, 73.6), (29.17, 71.0), (29.27, 61.3), (29.40, 53.9),
            (29.56, 59.8), (29.66, 57.1), (29.73, 57.1), (29.82, 49.9), (29.94, 58.3), (30.00, 53.6),
            (30.08, 62.3), (30.15, 52.9), (30.28, 51.6), (30.35, 59.5), (30.45, 57.5), (30.53, 56.3),
            (30.62, 56.1), (30.69, 54.2), (30.79, 58.8), (30.90, 58.3), (31.00, 58.3)]

# sea-level pressure, hPa
pressure = [(0.00, 1015.46), (0.09, 1015.56), (0.19, 1015.86), (0.27, 1017.22), (0.35, 1017.87),
            (0.45, 1017.78), (0.55, 1015.93), (0.65, 1015.15), (0.73, 1015.46), (0.80, 1016.39),
            (0.93, 1016.60), (1.03, 1016.60), (1.16, 1015.86), (1.28, 1016.23), (1.40, 1016.79),
            (1.48, 1015.15), (1.58, 1013.40), (1.68, 1013.15), (1.73, 1013.15), (1.80, 1012.38),
            (1.90, 1013.15), (2.01, 1012.28), (2.11, 1011.45), (2.17, 1011.14), (2.27, 1012.22),
            (2.37, 1013.83), (2.99, 1017.93), (3.15, 1017.41), (3.28, 1018.46), (3.40, 1020.25),
            (3.50, 1019.63), (3.60, 1018.33), (3.70, 1018.64), (3.80, 1019.48), (3.90, 1019.88),
            (4.02, 1019.88), (4.12, 1019.32), (4.22, 1019.32), (4.32, 1020.09), (4.43, 1020.40),
            (4.51, 1020.25), (4.61, 1018.09), (4.71, 1018.55), (4.83, 1019.01), (4.91, 1018.95),
            (5.01, 1018.24), (5.16, 1016.54), (5.26, 1015.93), (5.41, 1016.39), (6.00, 1014.38),
            (6.12, 1012.99), (6.24, 1012.47), (6.40, 1014.23), (6.47, 1014.07), (6.60, 1011.91),
            (6.67, 1012.07), (6.77, 1013.77), (6.85, 1014.07), (6.95, 1014.01), (7.08, 1013.40),
            (7.18, 1013.21), (7.25, 1013.40), (7.33, 1015.25), (7.43, 1015.93), (7.51, 1015.15),
            (7.63, 1013.61), (7.70, 1013.61), (7.78, 1014.69), (7.95, 1015.62), (8.03, 1015.15),
            (8.13, 1014.69), (8.22, 1015.00), (8.29, 1014.94), (8.39, 1015.93), (8.49, 1015.93),
            (8.64, 1013.52), (8.79, 1014.69), (8.92, 1015.68), (8.99, 1015.77), (9.09, 1014.38),
            (9.22, 1012.84), (9.32, 1013.30), (9.41, 1013.92), (9.51, 1012.69), (9.63, 1011.45),
            (9.73, 1011.91), (9.83, 1012.22), (9.97, 1012.16), (10.05, 1011.67), (10.13, 1011.30),
            (10.23, 1010.37), (10.31, 1010.99), (10.40, 1012.07), (10.50, 1011.60), (10.64, 1009.75),
            (10.71, 1009.60), (10.86, 1010.12), (10.96, 1009.75), (11.04, 1009.69), (11.11, 1008.67),
            (11.24, 1007.96), (11.31, 1008.21), (11.44, 1008.77), (11.54, 1006.82), (11.67, 1005.28),
            (11.75, 1004.57), (11.81, 1004.57), (11.88, 1005.28), (11.97, 1005.12), (12.07, 1004.35),
            (12.12, 1004.35), (12.22, 1003.27), (12.32, 1003.58), (12.45, 1005.80), (12.55, 1005.12),
            (12.63, 1003.95), (12.70, 1004.04), (12.86, 1007.28), (12.96, 1007.44), (13.09, 1007.96),
            (13.17, 1007.75), (13.28, 1007.96), (13.38, 1009.60), (13.48, 1010.22), (13.63, 1008.36),
            (13.73, 1008.67), (13.88, 1010.68), (13.98, 1010.74), (14.06, 1011.23), (14.18, 1011.30),
            (14.30, 1011.91), (14.49, 1013.77), (14.67, 1011.54), (14.77, 1013.15), (14.89, 1014.94),
            (14.99, 1015.15), (15.14, 1014.63), (15.24, 1015.00), (15.34, 1015.77), (15.41, 1016.85),
            (15.49, 1016.39), (15.59, 1014.75), (15.69, 1014.38), (15.77, 1014.75), (15.88, 1015.68),
            (15.95, 1015.62), (16.05, 1014.23), (16.15, 1013.30), (16.26, 1013.30), (16.39, 1014.14),
            (16.51, 1012.47), (16.62, 1010.52), (16.72, 1009.60), (16.80, 1009.38), (16.90, 1010.00),
            (17.03, 1009.29), (17.23, 1009.29), (17.34, 1009.91), (17.46, 1011.76), (17.56, 1010.37),
            (17.66, 1009.75), (17.83, 1010.68), (17.93, 1011.60), (18.03, 1010.93), (18.16, 1009.60),
            (18.28, 1008.98), (18.36, 1010.06), (18.49, 1008.98), (18.59, 1007.35), (18.67, 1007.90),
            (18.77, 1010.12), (18.83, 1010.00), (18.93, 1011.76), (19.03, 1012.07), (19.13, 1012.22),
            (19.21, 1012.28), (19.29, 1013.15), (19.37, 1014.85), (19.44, 1015.68), (19.55, 1014.23),
            (19.62, 1012.99), (19.72, 1012.99), (19.80, 1014.07), (19.88, 1015.62), (19.96, 1016.48),
            (20.06, 1015.62), (20.13, 1014.69), (20.23, 1013.46), (20.32, 1013.40), (20.40, 1013.92),
            (20.47, 1014.63), (20.54, 1013.21), (20.65, 1010.52), (20.75, 1010.62), (20.83, 1009.60),
            (20.88, 1008.67), (20.98, 1009.69), (21.09, 1008.67), (21.19, 1007.22), (21.29, 1006.98),
            (21.40, 1007.84), (21.49, 1009.29), (21.60, 1007.59), (21.70, 1006.91), (21.81, 1008.21),
            (21.91, 1009.38), (22.04, 1009.81), (22.15, 1009.60), (22.22, 1008.67), (22.32, 1009.60),
            (22.45, 1010.93), (22.58, 1009.75), (22.63, 1008.83), (22.73, 1008.77), (22.83, 1010.22),
            (22.99, 1010.62), (23.11, 1010.22), (23.21, 1009.07), (23.32, 1008.89), (23.40, 1009.20),
            (23.50, 1008.36), (23.58, 1007.13), (23.73, 1005.68), (23.86, 1006.60), (24.00, 1006.05),
            (24.07, 1005.43), (24.17, 1004.75), (24.30, 1006.51), (24.41, 1008.27), (24.51, 1008.67),
            (24.61, 1007.35), (24.68, 1007.28), (24.79, 1008.83), (24.92, 1009.69), (25.06, 1010.12),
            (25.17, 1010.22), (25.25, 1010.22), (25.37, 1011.45), (25.46, 1011.54), (25.58, 1010.83),
            (25.71, 1009.20), (25.81, 1010.12), (25.92, 1011.45), (26.07, 1011.36), (26.17, 1010.06),
            (26.33, 1008.67), (26.43, 1009.38), (26.50, 1009.51), (26.59, 1008.21), (26.67, 1005.80),
            (26.77, 1006.51), (26.84, 1007.28), (26.95, 1007.90), (27.05, 1007.28), (27.10, 1006.20),
            (27.18, 1005.80), (27.29, 1004.44), (27.39, 1005.49), (27.47, 1006.05), (27.58, 1005.28),
            (27.65, 1003.58), (27.72, 1002.50), (27.82, 1003.58), (27.92, 1004.97), (27.99, 1004.97),
            (28.08, 1004.26), (28.23, 1003.83), (28.35, 1004.51), (28.49, 1005.80), (28.54, 1005.12),
            (28.66, 1003.52), (28.74, 1003.64), (28.93, 1006.20), (29.05, 1006.05), (29.16, 1006.42),
            (29.24, 1006.30), (29.36, 1007.22), (29.47, 1008.67), (29.55, 1008.98), (29.59, 1007.96),
            (29.69, 1007.75), (29.77, 1006.98), (29.88, 1008.52), (30.00, 1010.37), (30.06, 1010.52),
            (30.16, 1009.75), (30.26, 1009.75), (30.38, 1010.52), (30.54, 1011.98), (30.59, 1011.23),
            (30.71, 1009.44), (30.80, 1009.91), (30.90, 1011.54), (31.00, 1012.38)]

# hourly precipitation, mm/h
precipitation = [(0.00, 0), (2.15, 0), (2.19, 1.0), (2.23, 0), (3.88, 0), (3.92, 0.4), (3.96, 0),
                 (12.22, 0), (12.25, 0.3), (12.29, 0), (16.78, 0), (16.82, 1.4), (16.86, 0),
                 (18.44, 0), (18.49, 3.3), (18.53, 0.9), (18.58, 0.7), (18.66, 0.3), (18.70, 0),
                 (20.58, 0), (20.62, 0.4), (20.67, 7.9), (20.76, 25.2), (20.81, 6.0), (20.85, 3.6),
                 (20.88, 0.5), (20.93, 0), (21.87, 0), (21.91, 2.5), (21.95, 0), (23.51, 0),
                 (23.55, 0.6), (23.59, 0), (23.75, 0), (23.79, 2.2), (23.84, 1.8), (23.88, 0),
                 (23.96, 0), (24.00, 1.1), (24.04, 0.5), (24.07, 12.1), (24.11, 1.1), (24.14, 0),
                 (25.00, 0), (25.04, 0.5), (25.08, 0), (25.88, 0), (25.92, 1.4), (25.96, 0),
                 (26.16, 0), (26.20, 2.5), (26.25, 1.1), (26.29, 2.5), (26.33, 0.3), (26.42, 0),
                 (26.46, 1.4), (26.50, 0.8), (26.58, 1.0), (26.61, 7.8), (26.65, 3.3), (26.71, 23.6),
                 (26.76, 22.7), (26.80, 0.5), (26.84, 4.8), (26.87, 4.5), (26.91, 1.4), (26.96, 1.2),
                 (27.00, 0), (27.83, 0), (27.87, 0.6), (27.91, 0), (28.81, 0), (28.85, 0.2),
                 (28.89, 0), (30.90, 0), (30.95, 0.4), (31.00, 0)]

direction_labels = ["N", "NW", "W", "SW", "S", "SE", "E", "NE", "N"]
direction_degrees = [360, 315, 270, 225, 180, 135, 90, 45, 0]

# ---------------------------------------------------------------- layout helpers
W, H = 1347, 1400
FONT = "Liberation Serif, Noto Sans CJK JP, serif"
TICK_COLOR = "#222222"
GRID_COLOR = "#3c3c3c"
LEGEND_SIZE = 13
TITLE_SIZE = 12.5


def fx(px):
    return px / W


def fy(py):
    return 1 - py / H


def unzip(pairs):
    return [p[0] for p in pairs], [p[1] for p in pairs]


# plot areas (left, right, top, bottom) in pixels, with their axis settings
panels = [
    dict(box=(75, 1224, 37, 323), left=(0, 5, 1), right=(0, 100, 20)),
    dict(box=(68, 1225, 395, 664), left=(0, 12, 3), right=(0, 360, 45)),
    dict(box=(75, 1232, 747, 1016), left=(10, 30, 5), right=(20, 100, 20)),
    dict(box=(82, 1240, 1097, 1367), left=(995, 1020, 5), right=(0, 50, 10)),
]

fig = go.Figure()
layout = dict(
    width=W, height=H,
    margin=dict(l=0, r=0, t=0, b=0),
    paper_bgcolor="white", plot_bgcolor="white",
    showlegend=False, hovermode=False,
    font=dict(family=FONT, size=11, color="black"),
)

axis_ids = []
for i, p in enumerate(panels):
    l, r, t, b = p["box"]
    n = i + 1
    xname = "xaxis" if n == 1 else f"xaxis{n}"
    xid = "x" if n == 1 else f"x{n}"
    yl_n, yr_n = 2 * i + 1, 2 * i + 2
    ylname = "yaxis" if yl_n == 1 else f"yaxis{yl_n}"
    ylid = "y" if yl_n == 1 else f"y{yl_n}"
    yrname = f"yaxis{yr_n}"
    yrid = f"y{yr_n}"
    axis_ids.append((xid, ylid, yrid))

    layout[xname] = dict(
        domain=[fx(l), fx(r)], anchor=ylid, range=[0, 31],
        tickmode="array", tickvals=list(range(len(x_tick_labels))), ticktext=x_tick_labels,
        ticks="inside", ticklen=4, tickcolor="black",
        showline=True, linecolor="black", linewidth=1,
        showgrid=False, zeroline=False,
        tickfont=dict(family=FONT, size=12, color=TICK_COLOR),
        ticklabelstandoff=3,
    )
    lo, hi, step = p["left"]
    layout[ylname] = dict(
        domain=[fy(b), fy(t)], anchor=xid, range=[lo, hi],
        tickmode="linear", tick0=lo, dtick=step,
        showgrid=True, gridcolor=GRID_COLOR, gridwidth=1,
        showline=True, linecolor="black", linewidth=1,
        ticks="outside", ticklen=4, tickcolor="black",
        zeroline=False,
        tickfont=dict(family=FONT, size=12, color=TICK_COLOR),
        ticklabelstandoff=6,
    )
    lo, hi, step = p["right"]
    layout[yrname] = dict(
        overlaying=ylid, side="right", anchor=xid, range=[lo, hi],
        tickmode="linear", tick0=lo, dtick=step,
        showgrid=False,
        showline=True, linecolor="black", linewidth=1,
        ticks="outside", ticklen=4, tickcolor="black",
        zeroline=False,
        tickfont=dict(family=FONT, size=12, color=TICK_COLOR),
        ticklabelstandoff=4,
    )

# ---------------------------------------------------------------- traces
(x1, y1, y2), (x2, y3, y4), (x3, y5, y6), (x4, y7, y8) = axis_ids


def add_line(pairs, xid, yid, color, width):
    t, v = unzip(pairs)
    fig.add_trace(go.Scatter(x=t, y=v, xaxis=xid, yaxis=yid, mode="lines",
                             line=dict(color=color, width=width)))


# panel 1: mercury species
add_line(hg0, x1, y1, "black", 2.4)
add_line(hg2, x1, y2, "#0000FF", 2.4)
add_line(hgp, x1, y2, "#FF0000", 2.4)

# panel 2: wind
add_line(wind_speed, x2, y3, "#000080", 1.6)
t, v = unzip(wind_dir)
fig.add_trace(go.Scatter(x=t, y=v, xaxis=x2, yaxis=y4, mode="markers",
                         marker=dict(symbol="square", size=6, color="black"),
                         cliponaxis=False))

# panel 3: temperature and humidity
add_line(air_temp, x3, y5, "#FF0000", 2.0)
add_line(humidity, x3, y6, "black", 2.0)

# panel 4: pressure and precipitation
add_line(pressure, x4, y7, "#FF0000", 2.0)
add_line(precipitation, x4, y8, "black", 2.0)

# ---------------------------------------------------------------- frames, legends, titles
shapes = []
annotations = []


def rect(x0, y0, x1_, y1_, fill=None, lw=1):
    shapes.append(dict(type="rect", xref="paper", yref="paper",
                       x0=fx(x0), x1=fx(x1_), y0=fy(y1_), y1=fy(y0),
                       line=dict(color="black", width=lw),
                       fillcolor=fill if fill else "rgba(0,0,0,0)", layer="above"))


def hline(x0, x1_, y, color, width):
    shapes.append(dict(type="line", xref="paper", yref="paper",
                       x0=fx(x0), x1=fx(x1_), y0=fy(y), y1=fy(y),
                       line=dict(color=color, width=width), layer="above"))


def text(x, y, s, size=11, anchor="left", angle=0):
    annotations.append(dict(xref="paper", yref="paper", x=fx(x), y=fy(y), text=s,
                            showarrow=False, xanchor=anchor, yanchor="middle",
                            textangle=angle,
                            font=dict(family=FONT, size=size, color="black")))


# outer frames of the four charts
rect(17, 8, 1287, 357)
rect(3, 362, 1290, 700)
rect(3, 713, 1290, 1052)
rect(3, 1065, 1290, 1393)

# legend 1
rect(819, 8, 1211, 24, fill="white")
hline(832, 862, 16, "black", 2.5)
text(862, 16.5, "Hg0(2007/12)", size=LEGEND_SIZE)
hline(963, 993, 16, "#0000FF", 2.5)
text(993, 16.5, "Hg2(2007/12)", size=LEGEND_SIZE)
hline(1093, 1124, 16, "#FF0000", 2.5)
text(1125, 16.5, "HgP(2007/12)", size=LEGEND_SIZE)

# legend 2
rect(901, 364, 1193, 381, fill="white")
hline(932, 963, 373, "#000080", 1.6)
text(964, 373.5, "風速(0712)", size=LEGEND_SIZE)
shapes.append(dict(type="rect", xref="paper", yref="paper",
                   x0=fx(1106), x1=fx(1112), y0=fy(375), y1=fy(369),
                   fillcolor="black", line=dict(color="black", width=0), layer="above"))
text(1127, 373.5, "風向(0712)", size=LEGEND_SIZE)

# legend 3
rect(924, 714, 1243, 731, fill="white")
hline(951, 981, 722, "#FF0000", 2.0)
text(983, 722.5, "気温(0712)", size=LEGEND_SIZE)
hline(1108, 1138, 722, "black", 2.0)
text(1140, 722.5, "湿度 (0712)", size=LEGEND_SIZE)

# legend 4
rect(911, 1066, 1235, 1083, fill="white")
hline(941, 971, 1074, "#FF0000", 2.0)
text(972, 1074.5, "気圧(0712)", size=LEGEND_SIZE)
hline(1097, 1127, 1074, "black", 2.0)
text(1129, 1074.5, "降水量(0712)", size=LEGEND_SIZE)

# axis titles
text(42, 180, "Hg(0)  (ng/m3)", size=TITLE_SIZE, anchor="center", angle=-90)
text(1262, 180, "Hg(2) ,Hg(P)  (pg/m3)", size=TITLE_SIZE, anchor="center", angle=-90)
text(28, 530, "風速(m/s)", size=TITLE_SIZE, anchor="center", angle=-90)
text(1265, 530, "風向(°)", size=TITLE_SIZE, anchor="center", angle=-90)
text(33, 880, "Hg(0)(ng/m3)", size=TITLE_SIZE, anchor="center", angle=-90)
text(1272, 880, "湿度(%)", size=TITLE_SIZE, anchor="center", angle=-90)
text(27, 1237, "気圧 (hPa)", size=TITLE_SIZE, anchor="center", angle=-90)
text(1274, 1237, "降水量 (mm/h)", size=TITLE_SIZE, anchor="center", angle=-90)

# compass labels beside the wind-direction axis
for lab, deg in zip(direction_labels, direction_degrees):
    py = 664 - deg / 360 * (664 - 395)
    text(1297, py - 1, lab, size=18)

layout["shapes"] = shapes
layout["annotations"] = annotations
fig.update_layout(**layout)

fig.write_html("out.html")
